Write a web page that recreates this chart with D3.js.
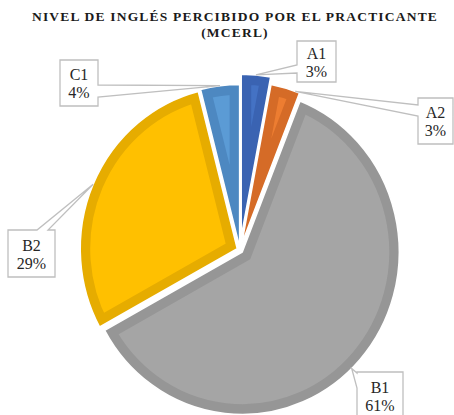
<!DOCTYPE html>
<html>
<head>
<meta charset="utf-8">
<script src="https://cdn.jsdelivr.net/npm/d3@7"></script>
<style>
  body { margin: 0; background: #fff; }
  svg { display: block; }
</style>
</head>
<body>
<div id="chart"></div>
<script>
// data
const categories = ["A1", "A2", "B1", "B2", "C1"];
const values = [3, 3, 61, 29, 4];
const pctLabels = ["3%", "3%", "61%", "29%", "4%"];
const innerColors = ["#4472C4", "#ED7D31", "#A5A5A5", "#FFC000", "#5B9BD5"];
const bandColors = ["#3A63B2", "#D56B27", "#969696", "#E6AC00", "#4D88C1"];
const explode = [13, 6, 3, 3, 3];
const titleLines = ["NIVEL DE INGLÉS PERCIBIDO POR EL PRACTICANTE", "(MCERL)"];

// callout boxes: position, which side the pointer leaves from, where on the arc it points
const boxes = [
    { x: 297, y: 41, w: 39, h: 41, side: "left", s0: 24, s1: 32, t: 0.5 },
    { x: 418, y: 98, w: 35, h: 46, side: "left", s0: 7, s1: 18, t: 0.85 },
    { x: 357, y: 372, w: 46, h: 47, side: "left", s0: 1, s1: 16, t: 0.52 },
    { x: 8, y: 230, w: 47, h: 47, side: "top", s0: 29, s1: 40, t: 0.5 },
    { x: 60, y: 60, w: 38, h: 46, side: "right", s0: 25, s1: 37, t: 0.5 }
];

const serif = "'Liberation Serif', 'Times New Roman', Times, serif";
const width = 454, height = 415;
const cx = 240, cy = 250, sy = 1.035;
const radius = 157;
const band = 10;

const svg = d3.select("#chart").append("svg")
    .attr("width", width)
    .attr("height", height);

svg.selectAll("text.title")
    .data(titleLines)
    .enter()
    .append("text")
    .attr("class", "title")
    .attr("x", 235)
    .attr("y", (d, i) => 21 + i * 16)
    .attr("text-anchor", "middle")
    .style("font-family", serif)
    .attr("font-weight", "bold")
    .attr("font-size", 13.5)
    .attr("letter-spacing", 1.2)
    .attr("fill", "#1a1a1a")
    .text(d => d);

const pie = d3.pie().sort(null).value(d => d);
const arcs = pie(values);
const arc = d3.arc().innerRadius(0).outerRadius(radius);

function offsetOf(d, i) {
    const mid = (d.startAngle + d.endAngle) / 2;
    return [explode[i] * Math.sin(mid), -explode[i] * Math.cos(mid)];
}

const pieG = svg.append("g")
    .attr("transform", `translate(${cx},${cy}) scale(1,${sy})`);

const defs = svg.append("defs");
defs.selectAll("clipPath")
    .data(arcs)
    .enter()
    .append("clipPath")
    .attr("id", (d, i) => "clip" + i)
    .append("path")
    .attr("d", arc);

const slices = pieG.selectAll("g.slice")
    .data(arcs)
    .enter()
    .append("g")
    .attr("class", "slice")
    .attr("transform", (d, i) => `translate(${offsetOf(d, i)})`);

slices.append("path")
    .attr("d", arc)
    .attr("fill", (d, i) => innerColors[i])
    .attr("stroke", (d, i) => bandColors[i])
    .attr("stroke-width", band * 2)
    .attr("clip-path", (d, i) => `url(#clip${i})`);

slices.append("path")
    .attr("d", arc)
    .attr("fill", "none")
    .attr("stroke", "#fff")
    .attr("stroke-width", 1.5)
    .attr("stroke-linejoin", "round");

// point on a slice's outer edge, in page coordinates
function tipOf(d, i, t) {
    const a = d.startAngle + (d.endAngle - d.startAngle) * t;
    const off = offsetOf(d, i);
    return [cx + off[0] + radius * Math.sin(a), cy + sy * (off[1] - radius * Math.cos(a))];
}

function calloutPath(b, tip) {
    const { x, y, w, h, side, s0, s1 } = b;
    const pts = [[x, y]];
    if (side === "top") pts.push([x + s0, y], tip, [x + s1, y]);
    pts.push([x + w, y]);
    if (side === "right") pts.push([x + w, y + s0], tip, [x + w, y + s1]);
    pts.push([x + w, y + h]);
    if (side === "bottom") pts.push([x + s1, y + h], tip, [x + s0, y + h]);
    pts.push([x, y + h]);
    if (side === "left") pts.push([x, y + s1], tip, [x, y + s0]);
    return d3.line()(pts) + "Z";
}

const labels = svg.selectAll("g.label")
    .data(arcs)
    .enter()
    .append("g")
    .attr("class", "label");

labels.append("path")
    .attr("d", (d, i) => calloutPath(boxes[i], tipOf(d, i, boxes[i].t)))
    .attr("fill", "#fff")
    .attr("stroke", "#BFBFBF")
    .attr("stroke-width", 1.3)
    .attr("stroke-linejoin", "miter");

const lt = labels.append("text")
    .attr("text-anchor", "middle")
    .style("font-family", serif)
    .attr("font-size", 16)
    .attr("fill", "#262626");

lt.append("tspan")
    .attr("x", (d, i) => boxes[i].x + boxes[i].w / 2)
    .attr("y", (d, i) => boxes[i].y + boxes[i].h / 2 - 3)
    .text((d, i) => categories[i]);

lt.append("tspan")
    .attr("x", (d, i) => boxes[i].x + boxes[i].w / 2)
    .attr("y", (d, i) => boxes[i].y + boxes[i].h / 2 + 15)
    .text((d, i) => pctLabels[i]);
</script>
</body>
</html>
